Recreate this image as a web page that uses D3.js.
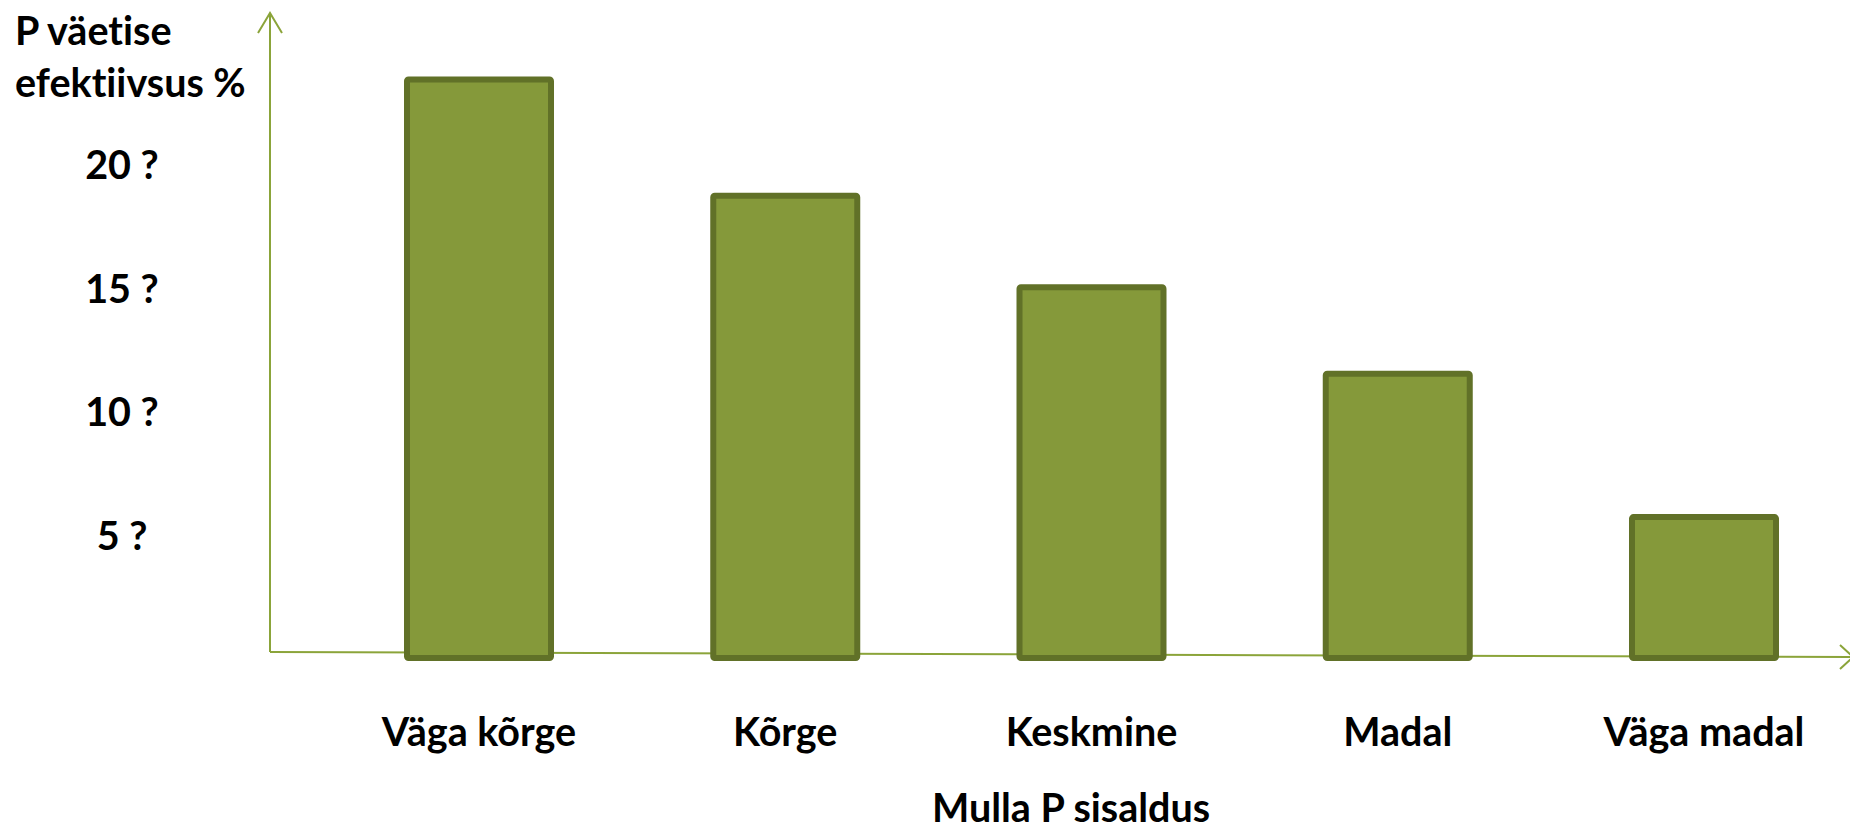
<!DOCTYPE html>
<html>
<head>
<meta charset="utf-8">
<script src="https://cdn.jsdelivr.net/npm/d3@7"></script>
<style>
	body { margin: 0; background: #fff; }
	svg { display: block; }
	text { font-family: Lato, 'Open Sans', sans-serif; font-weight: bold; fill: #000; font-variant-ligatures: none; }
</style>
</head>
<body>
<svg width="1850" height="829"></svg>
<script>
const categories = ['Väga kõrge', 'Kõrge', 'Keskmine', 'Madal', 'Väga madal'];
const values = [23.4, 18.7, 15.0, 11.5, 5.7];
const tickValues = [20, 15, 10, 5];
const tickLabels = ['20 ?', '15 ?', '10 ?', '5 ?'];
const yTitle = ['P väetise', 'efektiivsus %'];
const xTitle = 'Mulla P sisaldus';

const svg = d3.select('svg');

const x = d3.scalePoint()
	.domain(categories)
	.range([479, 1704]);

const y = d3.scaleLinear()
	.domain([0, 25])
	.range([658, 40]);

const barWidth = 144;
const axisColor = '#8ba43a';

// axes with arrows
const axes = svg.append('g')
	.attr('stroke', axisColor)
	.attr('stroke-width', 2)
	.attr('fill', 'none');

axes.append('line')
	.attr('x1', 270).attr('y1', y(0) - 6)
	.attr('x2', 270).attr('y2', 13);
axes.append('path')
	.attr('d', 'M258,33 L270,13 L282,33');

axes.append('line')
	.attr('x1', 270).attr('y1', y(0) - 6)
	.attr('x2', 1852).attr('y2', y(0) - 1);
axes.append('path')
	.attr('d', `M1840,${y(0) - 13} L1853,${y(0) - 1} L1840,${y(0) + 11}`);

svg.selectAll('rect.bar')
	.data(values)
	.enter()
	.append('rect')
	.attr('class', 'bar')
	.attr('x', (d, i) => x(categories[i]) - barWidth / 2)
	.attr('y', d => y(d))
	.attr('width', barWidth)
	.attr('height', d => y(0) - y(d))
	.attr('rx', 1.5)
	.attr('fill', '#85993a')
	.attr('stroke', '#617128')
	.attr('stroke-width', 6)
	.attr('stroke-linejoin', 'round');

svg.selectAll('text.tick')
	.data(tickValues)
	.enter()
	.append('text')
	.attr('class', 'tick')
	.attr('x', 122)
	.attr('y', d => y(d) + 15.5)
	.attr('text-anchor', 'middle')
	.attr('font-size', 39.5)
	.text((d, i) => tickLabels[i]);

svg.selectAll('text.cat')
	.data(categories)
	.enter()
	.append('text')
	.attr('class', 'cat')
	.attr('x', d => x(d))
	.attr('y', 746)
	.attr('text-anchor', 'middle')
	.attr('font-size', 39.5)
	.text(d => d);

svg.selectAll('text.ytitle')
	.data(yTitle)
	.enter()
	.append('text')
	.attr('class', 'ytitle')
	.attr('x', 15)
	.attr('y', (d, i) => 45 + i * 52)
	.attr('font-size', 39.5)
	.text(d => d);

svg.append('text')
	.attr('x', 1071)
	.attr('y', 822)
	.attr('text-anchor', 'middle')
	.attr('font-size', 39.5)
	.text(xTitle);
</script>
</body>
</html>
